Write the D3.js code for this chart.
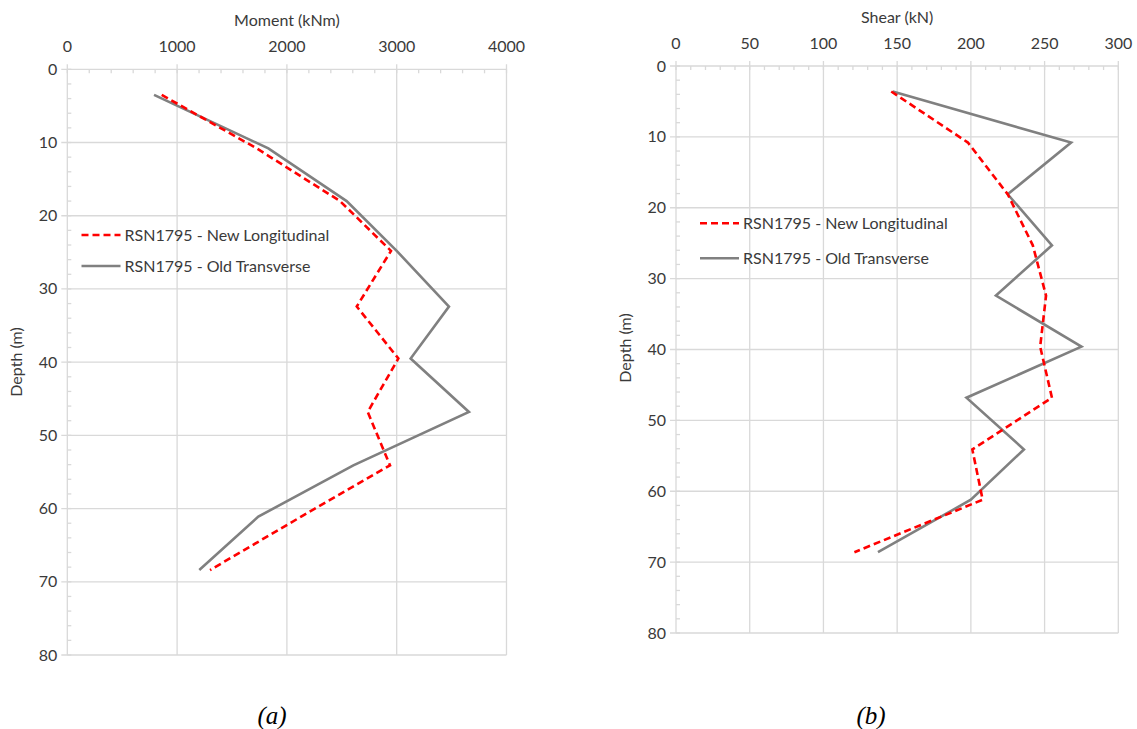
<!DOCTYPE html>
<html><head><meta charset="utf-8">
<script src="https://cdn.jsdelivr.net/npm/d3@7"></script>
<style>
body{margin:0;background:#fff;}
svg text{font-family:Lato,"Open Sans",sans-serif;}
</style></head>
<body><svg id="c" width="1137" height="729"></svg>
<script>
// Depths (m)
const depthsA = [3.5, 10.8, 18.0, 24.8, 32.4, 39.5, 46.8, 54.1, 61.1, 68.4];
const depthsB = [3.6, 10.8, 18.1, 25.3, 32.4, 39.6, 46.8, 54.1, 61.2, 68.6];
// Moment (kNm)
const momentNewLong = [860, 1725, 2484, 2948, 2636, 3015, 2736, 2939, 2130, 1300];
const momentOldTrans = [790, 1831, 2544, 3000, 3476, 3127, 3658, 2605, 1740, 1202];
// Shear (kN)
const shearNewLong = [146, 198, 225, 242, 251, 247, 255, 201, 208, 121];
const shearOldTrans = [147, 268, 225, 255, 217, 275, 197, 236, 200, 137];
// Axis ticks
const momentTicks = [0, 1000, 2000, 3000, 4000];
const shearTicks = [0, 50, 100, 150, 200, 250, 300];
const depthTicks = [0, 10, 20, 30, 40, 50, 60, 70, 80];
const seriesNames = ["RSN1795 - New Longitudinal", "RSN1795 - Old Transverse"];
const xTitles = ["Moment (kNm)", "Shear (kN)"];
const yTitle = "Depth (m)";
const captions = ["(a)", "(b)"];

const svg = d3.select("#c");
const gridC = "#d9d9d9", textC = "#3a3a3a";

function panel(o){
  const g = svg.append("g");
  const x = d3.scaleLinear().domain([0, o.xmax]).range([o.x0, o.x1]);
  const y = d3.scaleLinear().domain([0, 80]).range([o.y0, o.y1]);
  const xMinor = d3.range(0, o.xmax + 1e-9, o.xminor);
  const yMinor = d3.range(0, 80.001, 2);
  g.selectAll(".vg").data(o.xticks).join("line")
    .attr("x1", d => x(d)).attr("x2", d => x(d))
    .attr("y1", o.y0 - 5).attr("y2", o.y1)
    .attr("stroke", gridC).attr("stroke-width", 1.3);
  g.selectAll(".hg").data(depthTicks).join("line")
    .attr("x1", o.x0 - 6).attr("x2", o.x1)
    .attr("y1", d => y(d)).attr("y2", d => y(d))
    .attr("stroke", gridC).attr("stroke-width", 1.3);
  g.selectAll(".xm").data(xMinor).join("line")
    .attr("x1", d => x(d)).attr("x2", d => x(d))
    .attr("y1", o.y0).attr("y2", o.y0 + 4)
    .attr("stroke", gridC).attr("stroke-width", 1.3);
  g.selectAll(".ym").data(yMinor).join("line")
    .attr("x1", o.x0).attr("x2", o.x0 + 4)
    .attr("y1", d => y(d)).attr("y2", d => y(d))
    .attr("stroke", gridC).attr("stroke-width", 1.3);
  g.selectAll(".xl").data(o.xticks).join("text")
    .attr("x", d => x(d)).attr("y", o.y0 - 17)
    .attr("text-anchor", "middle").attr("font-size", 16).attr("fill", textC)
    .text(d => d);
  g.selectAll(".yl").data(depthTicks).join("text")
    .attr("x", o.x0 - 10).attr("y", d => y(d) + 5.5)
    .attr("text-anchor", "end").attr("font-size", 16).attr("fill", textC)
    .text(d => d);
  g.append("text").attr("x", (o.x0 + o.x1) / 2).attr("y", o.y0 - 43)
    .attr("text-anchor", "middle").attr("font-size", 16).attr("fill", textC).text(o.title);
  g.append("text").attr("transform", `translate(${o.x0 - 45},${o.ytc}) rotate(-90)`)
    .attr("text-anchor", "middle").attr("font-size", 16).attr("fill", textC).text(yTitle);
  const line = d3.line().x(d => x(d[0])).y(d => y(d[1]));
  g.append("path").datum(o.old.map((v, i) => [v, o.depths[i]]))
    .attr("d", line).attr("fill", "none").attr("stroke", "#808080").attr("stroke-width", 2.6);
  g.append("path").datum(o.nw.map((v, i) => [v, o.depths[i]]))
    .attr("d", line).attr("fill", "none").attr("stroke", "#ff0000").attr("stroke-width", 2.6)
    .attr("stroke-dasharray", "7,4");
  const lg = g.append("g");
  [0, 1].forEach(i => {
    const ly = o.ly + i * o.lgap;
    lg.append("line").attr("x1", o.lx).attr("x2", o.lx + 39).attr("y1", ly).attr("y2", ly)
      .attr("stroke", i === 0 ? "#ff0000" : "#808080").attr("stroke-width", 2.6)
      .attr("stroke-dasharray", i === 0 ? "7,4" : null);
    lg.append("text").attr("x", o.lx + 43).attr("y", ly + 5.5).attr("font-size", 16)
      .attr("fill", textC).text(seriesNames[i]);
  });
  g.append("text").attr("x", o.cx).attr("y", 724).attr("text-anchor", "middle")
    .style("font-family", "'Liberation Serif','DejaVu Serif',serif").attr("font-style", "italic")
    .attr("font-size", 25).attr("fill", "#000").text(o.caption);
}

panel({xmax: 4000, xminor: 200, xticks: momentTicks, x0: 67.3, x1: 506.5, y0: 69.3, y1: 655,
  title: xTitles[0], ytc: 362, old: momentOldTrans, nw: momentNewLong, depths: depthsA,
  lx: 81.5, ly: 235, lgap: 31, cx: 272, caption: captions[0]});
panel({xmax: 300, xminor: 10, xticks: shearTicks, x0: 676, x1: 1118.3, y0: 66, y1: 633,
  title: xTitles[1], ytc: 348, old: shearOldTrans, nw: shearNewLong, depths: depthsB,
  lx: 700, ly: 223.3, lgap: 35, cx: 871, caption: captions[1]});
</script></body></html>
